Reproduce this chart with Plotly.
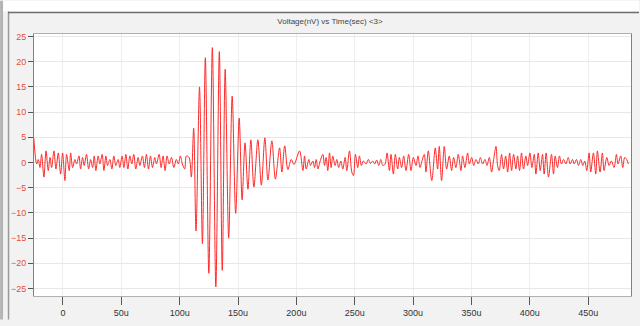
import plotly.graph_objects as go

# Time (microseconds) and voltage (nV)
time_us = [
    -25.0, -22.5, -21.1, -19.7, -18.3, -16.3, -14.5, -12.6, -11.1, -9.7, -7.7, -6.0, -4.0, -2.0, -0.3,
    1.7, 3.1, 5.4, 6.6, 8.3, 10.3, 11.7, 13.7, 15.1, 16.8, 18.2, 20.2, 22.0, 23.7, 25.4, 26.8, 28.2,
    30.2, 31.6, 33.6, 35.1, 36.8, 38.2, 40.2, 41.9, 43.6, 45.3, 47.3, 48.7, 50.7, 52.2, 53.9, 55.6,
    57.3, 59.0, 60.7, 62.4, 64.4, 65.9, 68.1, 69.8, 71.5, 73.3, 75.0, 76.7, 78.7, 80.1, 82.4, 84.1,
    85.8, 87.5, 89.2, 91.0, 93.0, 95.0, 97.2, 98.9, 100.6, 102.3, 104.3, 105.8, 108.1,
    110.0, 112.0, 114.0, 117.0, 119.5, 122.0, 125.0, 128.0, 131.0, 134.0, 136.5, 139.0, 142.0,
    145.0, 148.0, 151.0, 153.5, 156.0, 158.5, 161.0, 163.6, 167.0, 170.0, 173.0, 175.6, 179.0,
    182.0, 185.6, 187.6, 190.0, 192.7, 195.6, 198.0, 202.7,
    205.6, 207.0, 208.4, 210.7, 212.1, 214.1, 215.5, 217.0, 218.4, 220.4, 222.7, 224.1, 225.5,
    226.9, 228.4, 229.8, 231.2, 233.2, 234.6, 236.3, 238.1, 239.8, 241.8, 243.2, 245.5, 247.5,
    248.9, 250.6, 252.6, 254.0, 255.7, 257.4, 259.7, 261.7, 263.4, 265.4, 267.1, 268.8, 270.6,
    272.3, 274.0, 276.0, 277.7, 279.7, 281.1, 283.1, 284.8, 286.8, 288.2, 290.2, 291.9, 293.9,
    296.2, 298.2, 300.2, 302.5, 304.2, 305.9, 307.6, 309.6, 311.0, 313.0, 316.0, 319.0, 321.0,
    322.4, 324.4, 326.7, 328.7, 331.0, 333.0, 334.7, 336.7, 338.7, 341.0, 342.4, 344.4, 346.7,
    348.2, 350.2, 351.9, 353.9, 355.9, 357.6, 359.6, 361.6, 363.3, 365.3, 367.3, 369.0, 371.0,
    372.4, 373.8, 375.8, 377.5, 379.3, 381.0, 382.7, 384.4, 386.1, 388.1, 389.5, 391.2, 392.9,
    394.6, 396.6, 398.1, 400.1, 401.8, 403.8, 405.2, 407.2, 408.9, 410.9, 412.3, 414.0, 416.0,
    418.6, 420.3, 421.7, 423.7, 425.4, 427.1, 428.9, 430.9, 432.9, 434.6, 436.6, 438.0, 440.0,
    441.7, 443.7, 445.4, 447.1, 448.8, 450.8, 452.2, 454.5, 456.5, 457.9, 460.2, 462.2, 463.6,
    466.0, 467.9, 469.9, 472.2, 474.2, 475.6, 477.9, 479.6, 481.3, 483.0, 484.5,
]
voltage_nv = [
    4.9, -0.3, 0.6, -1.0, 1.6, -2.9, 2.3, -1.6, 1.0, -1.0, 2.3, -1.3, 1.9, -2.3, 1.9,
    -3.6, 1.6, -1.6, 1.9, -1.0, 0.6, -0.3, 1.3, -1.3, 1.0, -0.6, 1.6, -1.3, 0.6, -1.0, 1.3, -1.6,
    1.3, -0.3, 1.6, -1.6, 1.3, -0.6, 0.6, -1.3, 1.3, -0.6, 0.6, -1.0, 1.3, -1.0, 1.6, -1.3,
    1.3, -0.3, 1.6, -1.3, 1.0, -0.6, 1.3, -1.0, 1.6, -1.3, 1.3, -1.0, 1.0, -0.3, 1.6, -1.0,
    1.3, -1.6, 1.3, -0.3, 1.0, -1.0, 0.6, -0.3, 1.3, -0.3, -1.3, 1.3, 1.0,
    -2.9, 6.8, -13.6, 15.0, -16.1, 20.8, -22.0, 22.8, -24.7, 22.0, -21.4, 18.5, -15.0,
    13.2, -10.1, 8.8, -7.4, 3.9, -5.3, 4.5, -4.9, 4.5, -4.5, 4.9, -3.5, 4.3,
    -3.3, 2.9, -1.9, 3.3, -1.4, 0.6, -0.4, 2.3,
    -1.6, 1.3, -1.3, 0.6, -0.6, 0.3, -1.0, 0.6, -1.3, 0.3, 1.6, -0.6, 1.0,
    -1.6, 1.9, -1.0, 1.3, -0.6, 0.6, -1.0, 0.3, -1.3, 1.0, -1.6, 2.3, -1.9,
    -2.6, 1.6, -1.0, 1.3, -0.6, 0.3, -0.3, 0.6, -0.2, 0.3, -0.3, 0.5, -0.6,
    0.6, -0.6, -0.3, 1.9, -1.6, 1.6, -2.3, 1.6, -1.3, 1.0, -1.0, 1.3, -1.6,
    1.6, -1.6, 1.0, -0.6, 1.3, -1.0, 0.3, 1.6, -1.9, 2.3, -3.6, 2.9, -1.3,
    3.2, -3.6, 3.2, -1.3, 1.3, -1.6, 1.0, -1.0, 1.6, -1.6, 1.3, -1.0, 1.9,
    -0.3, 1.0, -0.6, 0.6, -0.3, 1.0, -0.3, 0.6, -0.6, 1.0, -1.9, 0.6, 3.2,
    -0.6, -1.6, 1.6, -1.3, 1.3, -1.9, 1.9, -1.6, 1.6, -1.3, 1.3, -1.6, 1.9,
    -1.3, 1.3, -0.6, 1.9, -1.0, 1.6, -2.3, 1.9, -1.6, 1.6, -2.3, 1.9, -2.9,
    1.6, -2.3, 1.3, -1.0, 1.3, -0.3, 0.6, -0.3, 1.0, -0.3, 0.6, -0.3, 0.6,
    -0.6, 0.6, -0.6, 0.3, -1.6, 1.9, -1.9, 1.9, -2.3, 2.3, -1.9, 1.9, -1.6,
    1.0, -0.6, 0.3, -1.0, 1.6, -0.3, 1.3, -1.0, 1.0, 0.6, -0.3,
]

x_tick_vals = [0, 50, 100, 150, 200, 250, 300, 350, 400, 450]
x_tick_text = ["0", "50u", "100u", "150u", "200u", "250u", "300u", "350u", "400u", "450u"]
y_tick_vals = [-25, -20, -15, -10, -5, 0, 5, 10, 15, 20, 25]
title_text = "Voltage(nV) vs Time(sec) &lt;3&gt;"

fig = go.Figure()
fig.add_trace(go.Scatter(
    x=time_us, y=voltage_nv, mode="lines",
    line=dict(color="#ff2a2a", width=1, shape="spline", smoothing=0.9),
    hoverinfo="skip", showlegend=False,
))

# plot area: px x 34..632, y 34..302
W, H = 598.0, 268.0
def px(x):
    return (x - 34) / W
def py(y):
    return (302 - y) / H

shapes = [
    dict(type="rect", xref="paper", yref="paper", x0=px(0), x1=px(640), y0=py(11), y1=py(0),
         fillcolor="white", line=dict(width=0), layer="below"),
    dict(type="rect", xref="paper", yref="paper", x0=px(0), x1=px(3), y0=py(326), y1=py(0),
         fillcolor="#b4b4b4", line=dict(width=0), layer="below"),
    dict(type="line", xref="paper", yref="paper", x0=px(8.5), x1=px(8.5), y0=py(326), y1=py(11),
         line=dict(color="#9a9a9a", width=1.5), layer="below"),
    dict(type="line", xref="paper", yref="paper", x0=px(8), x1=px(640), y0=py(12), y1=py(12),
         line=dict(color="#6e6e6e", width=1.5), layer="below"),
]

fig.update_layout(
    width=640, height=326,
    margin=dict(l=34, r=8, t=34, b=24),
    paper_bgcolor="#f2f2f2",
    plot_bgcolor="white",
    font=dict(family="Liberation Sans, Arial, sans-serif", size=9, color="#333333"),
    title=dict(text=title_text, x=330 / 640, xanchor="center", y=1 - 21 / 326, yanchor="middle",
               font=dict(size=8, color="#444444")),
    shapes=shapes,
    xaxis=dict(
        range=[-24.8, 486.7], tickvals=x_tick_vals, ticktext=x_tick_text,
        showgrid=True, gridcolor="#eeeeee", gridwidth=1, zeroline=False,
        showline=True, linecolor="#b0b0b0", mirror=True,
        ticks="outside", ticklen=8, tickcolor="#555555",
        tickfont=dict(size=9, color="#333333"),
    ),
    yaxis=dict(
        range=[-26.5, 25.5], tickvals=y_tick_vals,
        showgrid=True, gridcolor="#e8e8e8", gridwidth=1, zeroline=False,
        showline=True, linecolor="#808080", mirror=True,
        ticks="outside", ticklen=5, tickcolor="#555555",
        tickfont=dict(size=9, color="#e84a3c"),
    ),
)

fig.write_html("out.html")
